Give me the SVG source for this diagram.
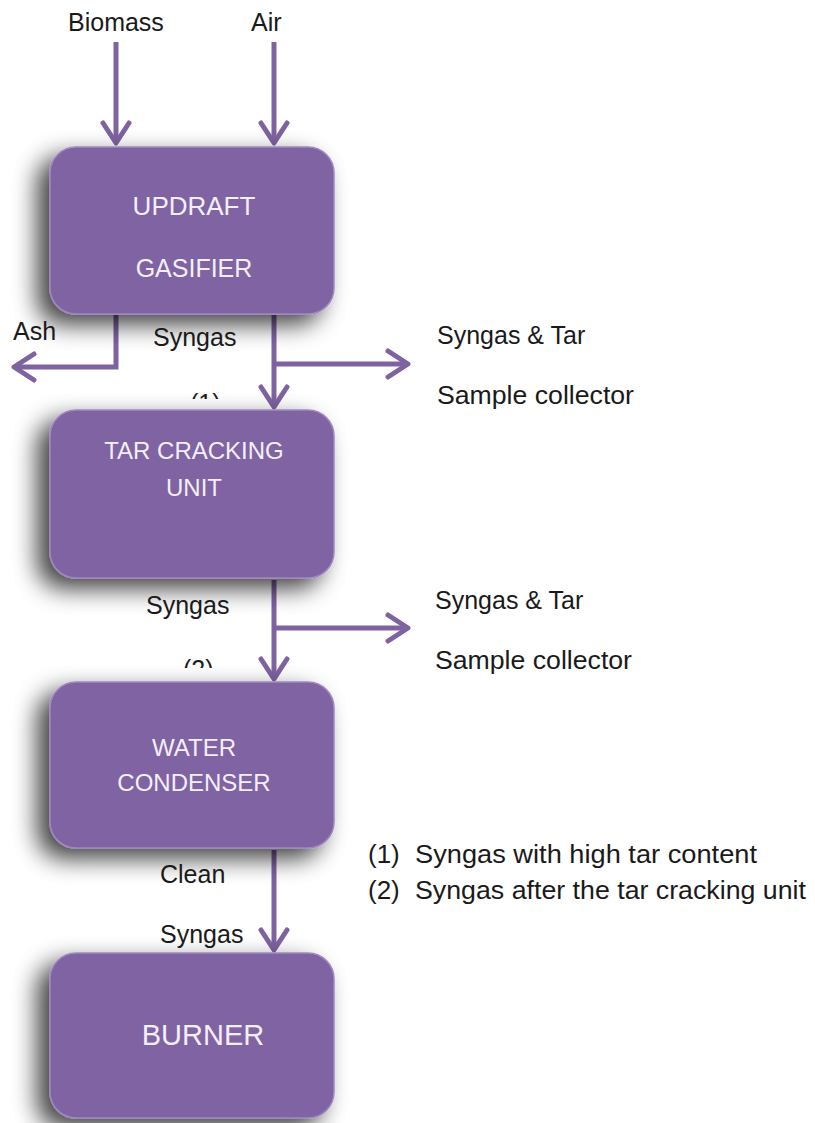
<svg xmlns="http://www.w3.org/2000/svg" width="815" height="1123" viewBox="0 0 815 1123">
<defs>
<style>
.box{fill:#8064A2;stroke:#9F88C0;stroke-width:1.5;filter:url(#sh)}
.bt{font-family:"Liberation Sans",Arial,sans-serif;fill:#F3EFF8;text-anchor:middle}
.lb{font-family:"Liberation Sans",Arial,sans-serif;font-size:25px;fill:#1a1a1a}
.lg{font-family:"Liberation Sans",Arial,sans-serif;font-size:26px;fill:#1a1a1a}
.cn{fill:none;stroke:#7F63A1;stroke-width:5;marker-end:url(#ah)}
</style>
<marker id="ah" markerUnits="userSpaceOnUse" viewBox="-26 -18 32 36" refX="0" refY="0" markerWidth="32" markerHeight="36" orient="auto">
<path d="M-20,-13 L0,0 L-20,13" fill="none" stroke="#7F63A1" stroke-width="5" stroke-linecap="round" stroke-linejoin="round"/>
</marker>
<filter id="sh" x="-40%" y="-40%" width="180%" height="180%">
<feGaussianBlur in="SourceAlpha" stdDeviation="12"/>
<feOffset dx="-12" dy="10" result="b"/>
<feComponentTransfer in="b" result="s"><feFuncA type="linear" slope="0.75"/></feComponentTransfer>
<feMerge><feMergeNode in="s"/><feMergeNode in="SourceGraphic"/></feMerge>
</filter>
<clipPath id="c1"><rect x="150" y="380" width="100" height="19"/></clipPath>
<clipPath id="c2"><rect x="150" y="645" width="100" height="23"/></clipPath>
</defs>

<g id="connectors">
<line class="cn" x1="116" y1="42" x2="116" y2="143"/>
<line class="cn" x1="274" y1="42" x2="274" y2="143"/>
<polyline class="cn" points="116,315 116,367 14,367"/>
<line class="cn" x1="274" y1="315" x2="274" y2="407"/>
<line class="cn" x1="274" y1="364" x2="408" y2="364"/>
<line class="cn" x1="274" y1="580" x2="274" y2="679"/>
<line class="cn" x1="274" y1="628" x2="408" y2="628"/>
<line class="cn" x1="274" y1="850" x2="274" y2="950"/>
</g>

<g id="gasifier">
<rect class="box" x="50" y="147" width="284" height="167" rx="26"/>
<text class="bt" x="194" y="215" font-size="26">UPDRAFT</text>
<text class="bt" x="194" y="277" font-size="25">GASIFIER</text>
</g>

<g id="tar-cracking">
<rect class="box" x="50" y="410" width="284" height="168" rx="26"/>
<text class="bt" x="194" y="459" font-size="24">TAR CRACKING</text>
<text class="bt" x="194" y="496" font-size="24">UNIT</text>
</g>

<g id="condenser">
<rect class="box" x="50" y="682" width="284" height="166" rx="26"/>
<text class="bt" x="194" y="756" font-size="24">WATER</text>
<text class="bt" x="194" y="791" font-size="24">CONDENSER</text>
</g>

<g id="burner">
<rect class="box" x="50" y="953" width="284" height="165" rx="26"/>
<text class="bt" x="203" y="1045" font-size="29">BURNER</text>
</g>

<g id="labels">
<text class="lb" x="68" y="31">Biomass</text>
<text class="lb" x="251" y="31">Air</text>
<text class="lb" x="13" y="340">Ash</text>
<text class="lb" x="153" y="346">Syngas</text>
<text class="lb" x="437" y="344">Syngas &amp; Tar</text>
<text class="lb" x="437" y="404" textLength="197" lengthAdjust="spacingAndGlyphs">Sample collector</text>
<text class="lb" x="190" y="412" clip-path="url(#c1)">(1)</text>
<text class="lb" x="146" y="614">Syngas</text>
<text class="lb" x="435" y="609">Syngas &amp; Tar</text>
<text class="lb" x="435" y="669" textLength="197" lengthAdjust="spacingAndGlyphs">Sample collector</text>
<text class="lb" x="183" y="678" clip-path="url(#c2)">(2)</text>
<text class="lb" x="160" y="883">Clean</text>
<text class="lb" x="160" y="943">Syngas</text>
</g>

<g id="legend">
<text class="lg" x="368" y="863">(1)</text>
<text class="lg" x="415" y="863" textLength="342" lengthAdjust="spacingAndGlyphs">Syngas with high tar content</text>
<text class="lg" x="368" y="899">(2)</text>
<text class="lg" x="415" y="899" textLength="391" lengthAdjust="spacingAndGlyphs">Syngas after the tar cracking unit</text>
</g>
</svg>
